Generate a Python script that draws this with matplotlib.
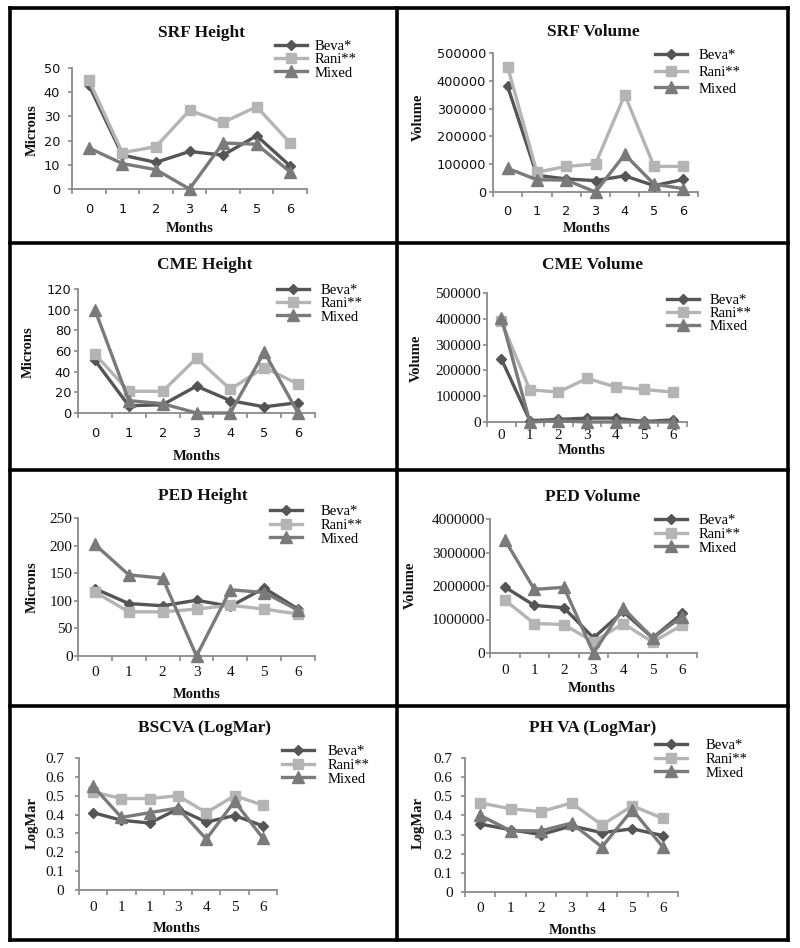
import matplotlib
matplotlib.use('Agg')
import matplotlib.pyplot as plt
from matplotlib.lines import Line2D
import numpy as np

# ---------------- data ----------------
months = ['0', '1', '2', '3', '4', '5', '6']
bscva_months = ['0', '1', '1', '3', '4', '5', '6']
series_names = ['Beva*', 'Rani**', 'Mixed']

srf_height_beva = [43, 14, 11, 15.5, 14, 22, 9.5]
srf_height_rani = [45, 15, 17.5, 32.5, 27.5, 34, 19]
srf_height_mixed = [17, 10.5, 8, 0, 19, 18.5, 7]

srf_volume_beva = [380000, 60000, 47000, 41000, 58000, 23000, 45000]
srf_volume_rani = [450000, 71000, 92000, 101000, 350000, 92000, 92000]
srf_volume_mixed = [85000, 44000, 43000, 0, 135000, 28000, 12000]

cme_height_beva = [51, 7, 8, 26, 12, 6, 10]
cme_height_rani = [57, 21, 21, 53, 23, 44, 28]
cme_height_mixed = [100, 12, 9, 0, 0, 59, 0]

cme_volume_beva = [245000, 5000, 10000, 15000, 15000, 2000, 8000]
cme_volume_rani = [390000, 125000, 116000, 169000, 136000, 126000, 116000]
cme_volume_mixed = [405000, 0, 5000, 0, 0, 0, 0]

ped_height_beva = [122, 95, 91, 101, 90, 123, 85]
ped_height_rani = [116, 80, 80, 85, 92, 85, 76]
ped_height_mixed = [202, 147, 141, 0, 120, 115, 83]

ped_volume_beva = [1970000, 1420000, 1350000, 450000, 1240000, 450000, 1180000]
ped_volume_rani = [1580000, 880000, 850000, 330000, 880000, 330000, 830000]
ped_volume_mixed = [3380000, 1900000, 1960000, 0, 1340000, 450000, 1080000]

bscva_beva = [0.41, 0.37, 0.355, 0.43, 0.36, 0.395, 0.34]
bscva_rani = [0.52, 0.485, 0.485, 0.50, 0.41, 0.50, 0.45]
bscva_mixed = [0.55, 0.385, 0.41, 0.435, 0.27, 0.47, 0.275]

phva_beva = [0.355, 0.325, 0.30, 0.345, 0.31, 0.33, 0.295]
phva_rani = [0.465, 0.435, 0.42, 0.465, 0.35, 0.45, 0.385]
phva_mixed = [0.40, 0.32, 0.32, 0.36, 0.235, 0.43, 0.235]

# ---------------- style ----------------
W, H = 800, 948
fig = plt.figure(figsize=(8, 9.48), dpi=100)


def fx(x):
    return x / W


def fy(y):
    return 1 - y / H


COL = {'Beva*': '#555555', 'Rani**': '#b4b4b4', 'Mixed': '#7a7a7a'}
MRK = {'Beva*': ('D', 5.0), 'Rani**': ('s', 7.0), 'Mixed': ('^', 8.0)}
AXCOL = '#8a8a8a'
SERIF = 'Liberation Serif'
SANS = 'DejaVu Sans'

panels = [
    dict(title='SRF Height', ylabel='Microns', data=(srf_height_beva, srf_height_rani, srf_height_mixed),
         xl=months, ymax=50, ystep=10, box=(72, 307, 68, 189), tfont=SANS,
         title_xy=(202, 33), ylab_xy=(32, 130), xlab_xy=(190, 228),
         leg=(275, 48, 17), xpad=10.0, ypad=5.5, htp=0.5),
    dict(title='SRF Volume', ylabel='Volume', data=(srf_volume_beva, srf_volume_rani, srf_volume_mixed),
         xl=months, ymax=500000, ystep=100000, box=(493, 698, 53, 192), tfont=SANS,
         title_xy=(593, 32), ylab_xy=(418, 117), xlab_xy=(587, 228),
         leg=(655, 57, 20.5), xpad=9.5, ypad=2.0, htp=0.8),
    dict(title='CME Height', ylabel='Microns', data=(cme_height_beva, cme_height_rani, cme_height_mixed),
         xl=months, ymax=120, ystep=20, box=(78, 315, 289, 413), tfont=SANS,
         title_xy=(205, 265), ylab_xy=(28, 352), xlab_xy=(197, 456),
         leg=(277, 292, 17), xpad=10.0, ypad=2.0, htp=0.8),
    dict(title='CME Volume', ylabel='Volume', data=(cme_volume_beva, cme_volume_rani, cme_volume_mixed),
         xl=months, ymax=500000, ystep=100000, box=(487, 687, 293, 422), tfont=SERIF,
         title_xy=(593, 265), ylab_xy=(416, 358), xlab_xy=(582, 450),
         leg=(667, 302, 14), xpad=5.0, ypad=1.2, htp=0.7),
    dict(title='PED Height', ylabel='Microns', data=(ped_height_beva, ped_height_rani, ped_height_mixed),
         xl=months, ymax=250, ystep=50, box=(78, 315, 518, 656), tfont=SERIF,
         title_xy=(203, 496), ylab_xy=(32, 587), xlab_xy=(197, 694),
         leg=(270, 513, 17.5), xpad=7.5, ypad=0.8, htp=1.3),
    dict(title='PED Volume', ylabel='Volume', data=(ped_volume_beva, ped_volume_rani, ped_volume_mixed),
         xl=months, ymax=4000000, ystep=1000000, box=(490, 697, 519, 653), tfont=SERIF,
         title_xy=(593, 497), ylab_xy=(410, 585), xlab_xy=(592, 689),
         leg=(655, 522, 17.5), xpad=8.0, ypad=0.3, htp=0.8),
    dict(title='BSCVA (LogMar)', ylabel='LogMar', data=(bscva_beva, bscva_rani, bscva_mixed),
         xl=bscva_months, ymax=0.7, ystep=0.1, box=(79, 277, 758, 890), tfont=SERIF,
         title_xy=(205, 728), ylab_xy=(32, 823), xlab_xy=(177, 929),
         leg=(282, 753, 17.5), xpad=8.0, ypad=7.5, htp=0.9),
    dict(title='PH VA (LogMar)', ylabel='LogMar', data=(phva_beva, phva_rani, phva_mixed),
         xl=months, ymax=0.7, ystep=0.1, box=(465, 678, 758, 892), tfont=SERIF,
         title_xy=(593, 728), ylab_xy=(418, 823), xlab_xy=(573, 930),
         leg=(655, 747, 17.5), xpad=7.5, ypad=6.0, htp=1.3),
]


def fmt(v):
    v = round(v, 6)
    return str(int(v)) if float(v).is_integer() else f'{v:.1f}'


LEG_FS = 10.5
for p in panels:
    l, r, t, b = p['box']
    ax = fig.add_axes([fx(l), fy(b), (r - l) / W, (b - t) / H])
    x = np.arange(len(p['xl']))
    for name, vals in zip(series_names, p['data']):
        m, ms = MRK[name]
        ax.plot(x, vals, color=COL[name], lw=2.4, marker=m, markersize=ms,
                markerfacecolor=COL[name], markeredgecolor=COL[name],
                label=name, clip_on=False, zorder=3)
    ax.set_xlim(-0.5, len(p['xl']) - 0.5)
    ax.set_ylim(0, p['ymax'])
    yt = np.arange(0, p['ymax'] + p['ystep'] / 2, p['ystep'])
    ax.set_yticks(yt)
    ax.set_yticklabels([fmt(v) for v in yt])
    ax.set_xticks(x)
    ax.set_xticklabels(p['xl'])
    ax.set_xticks(np.arange(-0.5, len(p['xl'])), minor=True)
    for s in ('top', 'right'):
        ax.spines[s].set_visible(False)
    for s in ('left', 'bottom'):
        ax.spines[s].set_color(AXCOL)
        ax.spines[s].set_linewidth(1.3)
    ax.tick_params(axis='x', which='major', length=0, pad=p['xpad'])
    ax.tick_params(axis='x', which='minor', length=3.5, width=1.2, color=AXCOL, direction='out')
    ax.tick_params(axis='y', which='major', length=3, width=1.2, color=AXCOL, direction='out', pad=p['ypad'])
    fs = 9.3 if p['tfont'] == SANS else 11
    for lab in ax.get_xticklabels() + ax.get_yticklabels():
        lab.set_fontfamily(p['tfont'])
        lab.set_fontsize(fs)
        lab.set_color('#111111')
    ax.patch.set_alpha(0)

    fig.text(fx(p['title_xy'][0]), fy(p['title_xy'][1]), p['title'], ha='center', va='center',
             fontfamily=SERIF, fontweight='bold', fontsize=12.5, color='#111111')
    fig.text(fx(p['ylab_xy'][0]), fy(p['ylab_xy'][1]), p['ylabel'], ha='center', va='center',
             rotation=90, fontfamily=SERIF, fontweight='bold', fontsize=10.5, color='#111111')
    fig.text(fx(p['xlab_xy'][0]), fy(p['xlab_xy'][1]), 'Months', ha='center', va='center',
             fontfamily=SERIF, fontweight='bold', fontsize=10.5, color='#111111')

    lx, ly, pitch = p['leg']
    fs_px = LEG_FS * 100 / 72
    lsp = max((pitch - 1.15 * fs_px) / fs_px, 0.0)
    ax.legend(loc='upper left', bbox_to_anchor=(fx(lx), fy(ly - 8.5)), bbox_transform=fig.transFigure,
              frameon=False, borderpad=0, borderaxespad=0, handlelength=32 / fs_px,
              handletextpad=p['htp'], labelspacing=lsp,
              prop={'family': SERIF, 'size': LEG_FS})

# ---------------- panel borders ----------------
BW = 2.6
border_x = [10, 397, 788]
border_y = [8, 243, 470, 706, 940]
for yy in border_y:
    fig.add_artist(Line2D([fx(border_x[0]), fx(border_x[-1])], [fy(yy), fy(yy)],
                          transform=fig.transFigure, color='black', lw=BW, solid_capstyle='projecting'))
for xx in border_x:
    fig.add_artist(Line2D([fx(xx), fx(xx)], [fy(border_y[0]), fy(border_y[-1])],
                          transform=fig.transFigure, color='black', lw=BW, solid_capstyle='projecting'))

fig.savefig('out.png', dpi=100, facecolor='white')
